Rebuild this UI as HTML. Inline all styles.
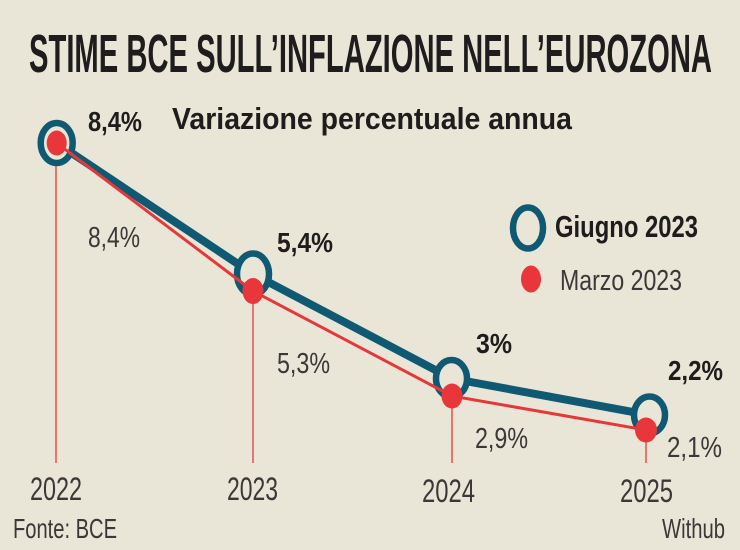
<!DOCTYPE html>
<html>
<head>
<meta charset="utf-8">
<style>
  html, body { margin: 0; padding: 0; background: #e9e6d7; }
  svg { display: block; }
  text { font-family: "Liberation Sans", Arial, sans-serif; }
</style>
</head>
<body>
<svg width="740" height="550" viewBox="0 0 740 550" xmlns="http://www.w3.org/2000/svg">
  <rect x="0" y="0" width="740" height="550" fill="#e9e6d7"/>

  <!-- Title -->
  <text x="29" y="72" font-size="54" font-weight="bold" fill="#1e1c1c" textLength="683" lengthAdjust="spacingAndGlyphs">STIME BCE SULL’INFLAZIONE NELL’EUROZONA</text>
  <text x="172" y="129" font-size="31" font-weight="bold" fill="#1e1c1c" textLength="400" lengthAdjust="spacingAndGlyphs">Variazione percentuale annua</text>

  <!-- vertical drop lines -->
  <g stroke="#e4776e" stroke-width="2">
    <line x1="56" y1="143" x2="56" y2="463"/>
    <line x1="253" y1="291" x2="253" y2="463"/>
    <line x1="452" y1="396" x2="452" y2="463"/>
    <line x1="646" y1="430" x2="646" y2="463"/>
  </g>

  <!-- Giugno 2023 line -->
  <polyline points="56.7,143 253,274 451.5,378.5 649.5,415" fill="none" stroke="#0f5a72" stroke-width="8" stroke-linejoin="round"/>

  <!-- Rings -->
  <g fill="#e9e6d7" stroke="#0f5a72" stroke-width="6.5">
    <ellipse cx="56.7" cy="143" rx="16" ry="20"/>
    <ellipse cx="253" cy="274" rx="16" ry="20.5"/>
    <ellipse cx="451.5" cy="378.5" rx="15.5" ry="18.5"/>
    <ellipse cx="649.5" cy="415" rx="15.5" ry="18.5"/>
  </g>

  <!-- Marzo 2023 line -->
  <polyline points="56.7,143 253,291 452,396 646,430" fill="none" stroke="#e6383a" stroke-width="3" stroke-linejoin="round"/>

  <!-- red dots -->
  <g fill="#e8363a">
    <ellipse cx="56.7" cy="143" rx="10" ry="12.5"/>
    <ellipse cx="253" cy="291" rx="10.5" ry="13"/>
    <ellipse cx="452" cy="396" rx="10.5" ry="12.5"/>
    <ellipse cx="646" cy="430" rx="11" ry="12.5"/>
  </g>

  <!-- Value labels (Giugno, bold) -->
  <g font-weight="bold" fill="#1e1c1c" font-size="28">
    <text x="88" y="131" textLength="54" lengthAdjust="spacingAndGlyphs">8,4%</text>
    <text x="277" y="252" textLength="56" lengthAdjust="spacingAndGlyphs">5,4%</text>
    <text x="476" y="353" textLength="36" lengthAdjust="spacingAndGlyphs">3%</text>
    <text x="668" y="380" textLength="55" lengthAdjust="spacingAndGlyphs">2,2%</text>
  </g>

  <!-- Value labels (Marzo, regular) -->
  <g fill="#3a3838" font-size="29">
    <text x="88" y="247" textLength="52" lengthAdjust="spacingAndGlyphs">8,4%</text>
    <text x="277" y="373" textLength="53" lengthAdjust="spacingAndGlyphs">5,3%</text>
    <text x="475" y="448" textLength="53" lengthAdjust="spacingAndGlyphs">2,9%</text>
    <text x="667" y="457" textLength="55" lengthAdjust="spacingAndGlyphs">2,1%</text>
  </g>

  <!-- Year labels -->
  <g fill="#3a3838" font-size="32">
    <text x="30" y="500" textLength="52" lengthAdjust="spacingAndGlyphs">2022</text>
    <text x="227" y="500" textLength="51" lengthAdjust="spacingAndGlyphs">2023</text>
    <text x="422" y="502" textLength="53" lengthAdjust="spacingAndGlyphs">2024</text>
    <text x="620" y="502" textLength="53" lengthAdjust="spacingAndGlyphs">2025</text>
  </g>

  <!-- Legend -->
  <ellipse cx="528" cy="228" rx="15" ry="20.5" fill="none" stroke="#0f5a72" stroke-width="6.5"/>
  <text x="555" y="237" font-size="31" font-weight="bold" fill="#1e1c1c" textLength="143" lengthAdjust="spacingAndGlyphs">Giugno 2023</text>
  <ellipse cx="531" cy="279" rx="10" ry="13.5" fill="#e8363a"/>
  <text x="560" y="290" font-size="29" fill="#3a3838" textLength="122" lengthAdjust="spacingAndGlyphs">Marzo 2023</text>

  <!-- Footer -->
  <text x="13" y="538" font-size="28" fill="#3a3838" textLength="104" lengthAdjust="spacingAndGlyphs">Fonte: BCE</text>
  <text x="662" y="538" font-size="28" fill="#3a3838" textLength="63" lengthAdjust="spacingAndGlyphs">Withub</text>
</svg>
</body>
</html>
